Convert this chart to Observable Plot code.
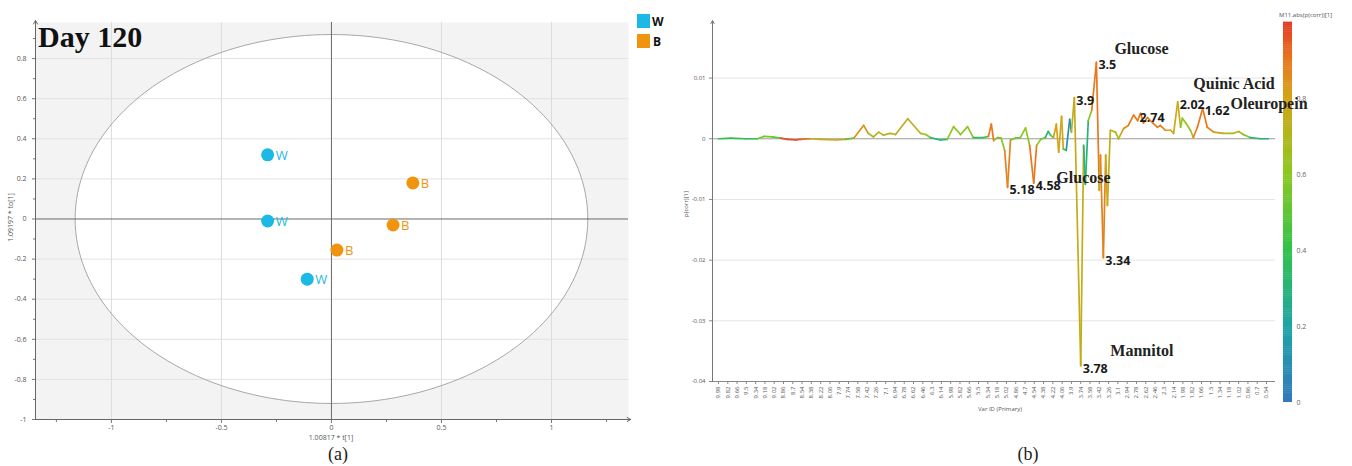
<!DOCTYPE html>
<html>
<head>
<meta charset="utf-8">
<script src="https://cdn.jsdelivr.net/npm/d3@7"></script>
<script src="https://cdn.jsdelivr.net/npm/@observablehq/plot@0.6"></script>
<style>
  body { margin: 0; background: white; }
  #root { position: relative; width: 1352px; height: 466px; background: white; overflow: hidden; font-family: "Open Sans", sans-serif; }
  .abs { position: absolute; }
  svg { overflow: visible; }
  .serif { font-family: "Liberation Serif", serif; }
</style>
</head>
<body>
<div id="root">
  <div id="plotA" class="abs" style="left:0;top:0"></div>
  <div id="cbar" class="abs" style="left:1270px;top:0"></div>
  <div id="plotB" class="abs" style="left:680px;top:0"></div>

  <div class="abs serif" style="left:38px;top:22px;font-size:30px;font-weight:bold;color:#111;line-height:30px">Day 120</div>
  <div class="abs" style="left:637px;top:14px;width:13px;height:14px;background:#1cb8e6"></div>
  <div class="abs" style="left:652px;top:13px;font-size:12px;font-weight:bold;color:#111">W</div>
  <div class="abs" style="left:637px;top:34px;width:13px;height:14px;background:#f0940f"></div>
  <div class="abs" style="left:653px;top:33px;font-size:12px;font-weight:bold;color:#111">B</div>
  <div class="abs" style="left:281px;top:433px;width:100px;text-align:center;font-size:7px;color:#555">1.00817 * t[1]</div>
  <div class="abs" style="left:-40px;top:213px;width:100px;text-align:center;font-size:7px;color:#555;transform:rotate(-90deg)">1.09197 * to[1]</div>
  <div class="abs serif" style="left:318px;top:444px;width:40px;text-align:center;font-size:18px;color:#222">(a)</div>

  <div class="abs" style="left:950px;top:405px;width:100px;text-align:center;font-size:6px;color:#555">Var ID (Primary)</div>
  <div class="abs" style="left:646px;top:200px;width:80px;text-align:center;font-size:6px;color:#555;transform:rotate(-90deg)">p(corr)[1]</div>
  <div class="abs" style="left:1279px;top:11px;font-size:6px;color:#555;white-space:nowrap">M11.abs(p(corr))[1]</div>
  <div class="abs serif" style="left:1008px;top:444px;width:40px;text-align:center;font-size:18px;color:#222">(b)</div>
</div>
<script>
// ---------- Panel (a): OPLS-DA score plot ----------
const groups = ["W", "W", "W", "B", "B", "B"];
const t1 = [-0.29, -0.29, -0.11, 0.37, 0.28, 0.025];
const to1 = [0.32, -0.01, -0.30, 0.18, -0.03, -0.155];
const groupColors = {W: "#1cb8e6", B: "#f0940f"};
const ellipseRx = 1.165, ellipseRy = 0.92;
const xTicksA = [-1, -0.5, 0, 0.5, 1];
const yTicksA = [-1, -0.8, -0.6, -0.4, -0.2, 0, 0.2, 0.4, 0.6, 0.8];

// ---------- Panel (b): S-line loading plot ----------
const ppm = [
  9.98, 9.77, 9.51, 9.31, 9.19, 9.05, 8.91, 8.79, 8.65, 8.57,
  8.40, 8.22, 7.96, 7.79, 7.65, 7.48, 7.40, 7.31, 7.22, 7.14,
  7.02, 6.93, 6.72, 6.50, 6.41, 6.33, 6.16, 6.04, 5.93, 5.81,
  5.69, 5.59, 5.42, 5.33, 5.28, 5.24, 5.17, 5.11, 5.05, 5.00,
  4.95, 4.86, 4.78, 4.69, 4.62, 4.55, 4.50, 4.43, 4.35, 4.30,
  4.26, 4.21, 4.16, 4.12, 4.07, 4.04, 3.99, 3.93, 3.90, 3.85,
  3.74, 3.69, 3.66, 3.61, 3.55, 3.47, 3.42, 3.40, 3.35, 3.31,
  3.28, 3.23, 3.14, 3.09, 3.00, 2.92, 2.83, 2.76, 2.71, 2.66,
  2.59, 2.50, 2.42, 2.37, 2.28, 2.19, 2.14, 2.07, 2.02, 1.99,
  1.93, 1.85, 1.80, 1.73, 1.64, 1.56, 1.45, 1.28, 1.11, 1.02,
  0.94, 0.82, 0.64, 0.51
];
const pcorr = [
  0, 0.0001, 0, 0, 0.0004, 0.0003, 0.0001, -0.0001, -0.0002, -0.0001,
  0, -0.0001, -0.0002, -0.0001, 0.0001, 0.0022, 0.0009, 0.0003, 0.0011, 0.0006,
  0.0009, 0.0007, 0.0033, 0.0009, 0.0007, 0.0002, -0.0002, -0.0001, 0.0020, 0.0007,
  0.0020, 0.0002, 0.0002, 0.0004, 0.0024, -0.0003, 0.0002, 0.0001, -0.0019, -0.0080,
  -0.0002, 0.0001, 0.0002, 0.0018, -0.0011, -0.0073, -0.0011, -0.0001, 0.0002, 0.0012,
  0.0006, 0.0002, 0.0024, -0.0022, 0.0037, -0.0017, -0.0019, 0.0032, 0.0011, 0.0068,
  -0.0374, -0.0011, -0.0075, 0.0030, 0.0047, 0.0126, -0.0085, -0.0027, -0.0196, -0.0027,
  -0.0110, 0.0014, 0.0011, 0, 0.0017, 0.0022, 0.0039, 0.0030, 0.0042, 0.0026,
  0.0035, 0.0026, 0.0019, 0.0022, 0.0014, 0.0014, 0.0009, 0.0061, 0.0019, 0.0034,
  0.0026, 0.0014, 0.0002, 0.0019, 0.0050, 0.0019, 0.0011, 0.0009, 0.0009, 0.0012,
  0.0007, 0.0002, 0, 0
];
const absCorr = [
  0.35, 0.4, 0.3, 0.35, 0.55, 0.5, 0.6, 0.97, 0.97, 0.92,
  0.8, 0.75, 0.78, 0.6, 0.5, 0.85, 0.65, 0.6, 0.72, 0.7,
  0.7, 0.7, 0.74, 0.65, 0.6, 0.45, 0.3, 0.35, 0.6, 0.6,
  0.6, 0.4, 0.35, 0.45, 0.9, 0.8, 0.5, 0.5, 0.6, 0.88,
  0.55, 0.45, 0.5, 0.6, 0.7, 0.9, 0.6, 0.5, 0.55, 0.3,
  0.5, 0.6, 0.8, 0.97, 0.8, 0.5, 0.45, 0.12, 0.4, 0.75,
  0.75, 0.2, 0.3, 0.5, 0.6, 0.9, 0.7, 0.5, 0.88, 0.6,
  0.75, 0.75, 0.6, 0.3, 0.8, 0.85, 0.9, 0.9, 0.9, 0.9,
  0.9, 0.9, 0.88, 0.88, 0.85, 0.8, 0.75, 0.78, 0.55, 0.6,
  0.65, 0.7, 0.6, 0.88, 0.9, 0.88, 0.82, 0.72, 0.7, 0.7,
  0.55, 0.3, 0.3, 0.3
];
const xTickLabels = [9.98, 9.82, 9.66, 9.5, 9.34, 9.18, 9.02, 8.86, 8.7, 8.54, 8.38, 8.22, 8.06, 7.9, 7.74, 7.58, 7.42, 7.26, 7.1, 6.94,
  6.78, 6.62, 6.46, 6.3, 6.14, 5.98, 5.82, 5.66, 5.5, 5.34, 5.18, 5.02, 4.86, 4.7, 4.54, 4.38, 4.22, 4.06, 3.9, 3.74,
  3.58, 3.42, 3.26, 3.1, 2.94, 2.78, 2.62, 2.46, 2.3, 2.14, 1.98, 1.82, 1.66, 1.5, 1.34, 1.18, 1.02, 0.86, 0.7, 0.54];
const yTicksB = [-0.04, -0.03, -0.02, -0.01, 0, 0.01];
const peakText = ["5.18", "4.58", "3.9", "3.5", "3.34", "3.78", "2.74", "2.02", "1.62"];
const peakPpm = [5.00, 4.55, 3.85, 3.47, 3.35, 3.74, 2.76, 2.07, 1.64];
const peakVal = [-0.0080, -0.0073, 0.0068, 0.0126, -0.0196, -0.0374, 0.0039, 0.0061, 0.0050];
const nameText = ["Glucose", "Quinic Acid", "Oleuropein", "Glucose", "Mannitol"];
const namePpm = [3.16, 1.80, 1.16, 4.16, 3.23];
const nameVal = [0.0148, 0.0091, 0.0058, -0.0064, -0.0349];
const colorStops = [0, 0.2, 0.4, 0.6, 0.8, 0.9, 1];
const colorRange = ["#3478bd", "#1ea5a5", "#2fc34a", "#8cc820", "#d4a417", "#e9781c", "#e23a24"];
const cbarTicks = [0, 0.2, 0.4, 0.6, 0.8];

// ---------- build panel (a) ----------
const scores = groups.map((g, i) => ({g, x: t1[i], y: to1[i]}));
const ellipse = d3.range(0, 361, 2).map(a => ({x: ellipseRx * Math.cos(a * Math.PI / 180), y: ellipseRy * Math.sin(a * Math.PI / 180)}));
const x0 = -1.345, x1 = 1.35, y0 = -1, y1 = 0.98;
const plotA = Plot.plot({
  width: 680, height: 445,
  marginTop: 22, marginLeft: 35, marginRight: 52, marginBottom: 26,
  x: {domain: [x0, x1], label: null},
  y: {domain: [y0, y1], label: null},
  style: {background: "transparent", fontFamily: "Open Sans", fontSize: "7px", color: "#555", overflow: "visible"},
  marks: [
    Plot.frame({fill: "#f3f3f3", stroke: null}),
    Plot.line(ellipse, {x: "x", y: "y", fill: "white", stroke: "none"}),
    Plot.gridX(xTicksA.filter(d => d !== 0), {stroke: "#dcdcdc", strokeOpacity: 1}),
    Plot.gridY(yTicksA.filter(d => d !== 0 && d !== -1), {stroke: "#e2e2e2", strokeOpacity: 1}),
    Plot.line(ellipse, {x: "x", y: "y", stroke: "#a8a8a8", strokeWidth: 1}),
    Plot.ruleY([0], {stroke: "#6a6a6a", strokeWidth: 1}),
    Plot.ruleX([0], {stroke: "#6a6a6a", strokeWidth: 1}),
    Plot.axisX({ticks: xTicksA, tickSize: 4, tickPadding: 2, stroke: "#777", tickFormat: d => String(d), label: null}),
    Plot.axisX({ticks: [-1.25, -0.75, -0.25, 0.25, 0.75, 1.25], tickSize: 3, tickFormat: () => "", stroke: "#777", label: null}),
    Plot.axisY({ticks: yTicksA, tickSize: 3, tickPadding: 6, stroke: "#777", tickFormat: d => String(+d.toFixed(1)), label: null}),
    Plot.axisY({ticks: [-0.9, -0.7, -0.5, -0.3, -0.1, 0.1, 0.3, 0.5, 0.7, 0.9], tickSize: 2, tickFormat: () => "", stroke: "#777", label: null}),
    Plot.arrow([{a: x0, b: y0, c: x1 + 0.01, d: y0}], {x1: "a", y1: "b", x2: "c", y2: "d", stroke: "#666", strokeWidth: 1, headLength: 6}),
    Plot.arrow([{a: x0, b: y0, c: x0, d: y1 + 0.01}], {x1: "a", y1: "b", x2: "c", y2: "d", stroke: "#666", strokeWidth: 1, headLength: 6}),
    Plot.dot(scores, {x: "x", y: "y", r: 6.5, fill: d => groupColors[d.g], stroke: "none"}),
    Plot.text(scores, {x: "x", y: "y", text: "g", fill: d => groupColors[d.g], dx: 8, dy: 1, textAnchor: "start", fontSize: 13})
  ]
});
document.getElementById("plotA").appendChild(plotA);

// ---------- build panel (b) ----------
const colorScale = {type: "linear", domain: colorStops, range: colorRange, interpolate: "rgb"};
const segs = ppm.slice(1).map((p, i) => ({x1: ppm[i], y1: pcorr[i], x2: p, y2: pcorr[i + 1],
  c: Math.abs(pcorr[i]) > Math.abs(pcorr[i + 1]) ? absCorr[i] : absCorr[i + 1]}));
const peaks = peakText.map((t, i) => ({t, x: peakPpm[i], y: peakVal[i]}));
const names = nameText.map((t, i) => ({t, x: namePpm[i], y: nameVal[i]}));
const bx0 = 10.083, bx1 = 0.385, by0 = -0.04, by1 = 0.01916;
const plotB = Plot.plot({
  width: 600, height: 420,
  marginTop: 22, marginLeft: 32, marginRight: 5, marginBottom: 39,
  x: {domain: [bx0, bx1], label: null},
  y: {domain: [by0, by1], label: null},
  color: colorScale,
  style: {background: "transparent", fontFamily: "Open Sans", fontSize: "6px", color: "#555", overflow: "visible"},
  marks: [
    Plot.gridY([-0.03, -0.02, -0.01, 0.01], {stroke: "#e4e4e4", strokeOpacity: 1}),
    Plot.ruleY([0], {stroke: "#9a9a9a", strokeWidth: 1}),
    Plot.axisX({ticks: xTickLabels, tickSize: 3, tickPadding: 2, tickRotate: -90, stroke: "#888", tickFormat: d => String(d), label: null}),
    Plot.axisY({ticks: yTicksB, tickSize: 3, tickPadding: 4, stroke: "#888", tickFormat: d => String(+d.toFixed(2)), label: null}),
    Plot.ruleY([by0], {stroke: "#888"}),
    Plot.arrow([{a: bx0, b: by0, c: bx0, d: by1 + 0.0003}], {x1: "a", y1: "b", x2: "c", y2: "d", stroke: "#777", strokeWidth: 1, headLength: 5}),
    Plot.link(segs, {x1: "x1", y1: "y1", x2: "x2", y2: "y2", stroke: "c", strokeWidth: 1.7, strokeLinecap: "round"}),
    Plot.text(peaks, {x: "x", y: "y", text: "t", dx: 2, dy: 3, textAnchor: "start", fontSize: 12.5, fontWeight: "bold", fill: "#1a1a1a", fontFamily: "Open Sans"}),
    Plot.text(names, {x: "x", y: "y", text: "t", textAnchor: "start", fontSize: 16, fontWeight: "bold", fill: "#222", fontFamily: "Liberation Serif"})
  ]
});

// ---------- colour bar ----------
const cbarSteps = d3.range(0, 1, 0.005);
const cbar = Plot.plot({
  width: 80, height: 420,
  marginTop: 22, marginBottom: 18, marginLeft: 13, marginRight: 58,
  x: {domain: [0, 1], axis: null},
  y: {domain: [0, 1], axis: "right", ticks: cbarTicks, tickSize: 0, tickPadding: 4, tickFormat: d => String(d), label: null},
  color: colorScale,
  style: {background: "transparent", fontFamily: "Open Sans", fontSize: "7px", color: "#666", overflow: "visible"},
  marks: [
    Plot.rect(cbarSteps, {x1: () => 0, x2: () => 1, y1: d => d, y2: d => d + 0.006, fill: d => d + 0.0025})
  ]
});
document.getElementById("cbar").appendChild(cbar);
document.getElementById("plotB").appendChild(plotB);
</script>
</body>
</html>
